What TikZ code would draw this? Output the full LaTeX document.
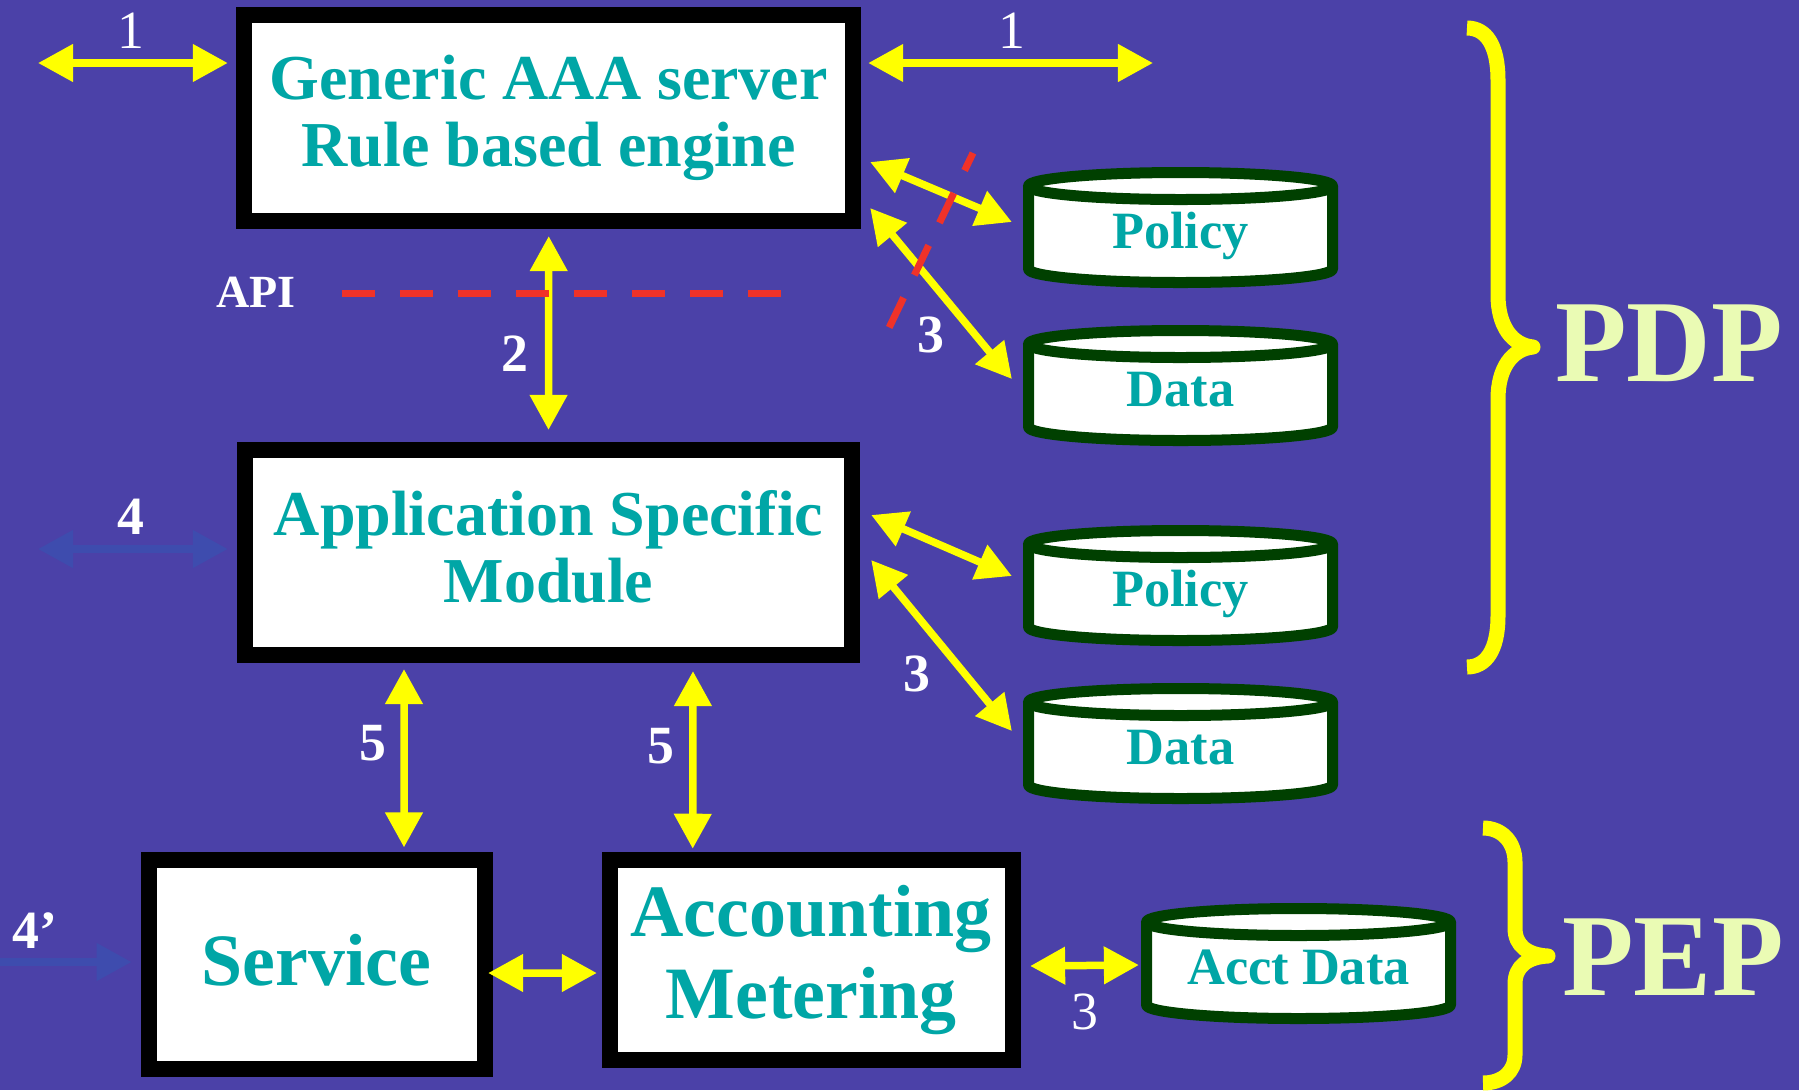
\documentclass[tikz,border=0pt]{standalone}
\usepackage{fontspec}
\setmainfont{Liberation Serif}
\usetikzlibrary{arrows.meta,calc}

\definecolor{bgblue}{RGB}{75,65,168}
\definecolor{aaateal}{RGB}{0,166,166}
\definecolor{aaayellow}{RGB}{255,255,0}
\definecolor{dbgreen}{RGB}{0,64,0}
\definecolor{apired}{RGB}{240,50,40}
\definecolor{faintblue}{RGB}{62,76,174}
\definecolor{pdpgreen}{RGB}{234,251,180}

% cylinder: name, centre x, top ellipse y, label
\newcommand{\dbcyl}[4]{%
  \fill[white] (#2-152,#3) -- (#2-152,#3+83) arc[start angle=180,end angle=0,x radius=152,y radius=13.5] -- (#2+152,#3) -- cycle;
  \draw[cylline] (#2-152,#3) -- (#2-152,#3+83) arc[start angle=180,end angle=0,x radius=152,y radius=13.5] -- (#2+152,#3);
  \filldraw[cylline,fill=white] (#2,#3) ellipse[x radius=152,y radius=13.5];
  \node[dbnode] (#1) at (#2,#3+41.5) {#4};
}

\begin{document}
\begin{tikzpicture}[x=0.01cm,y=-0.01cm,
    blockbox/.style={draw=black,line width=0.16cm,fill=white,inner sep=0pt,align=center,text=aaateal},
    midfont/.style={font=\fontsize{18.2}{19}\selectfont\bfseries},
    bigfont/.style={font=\fontsize{21}{23.3}\selectfont\bfseries},
    cylline/.style={draw=dbgreen,line width=0.11cm,line join=round},
    dbnode/.style={inner sep=0pt,outer sep=0pt,minimum width=3.15cm,minimum height=1.21cm,
      text height=0.41cm,text depth=0cm,text=aaateal,font=\fontsize{14.9}{16}\selectfont\bfseries},
    biarrow/.style={draw=aaayellow,line width=0.075cm,
      {Triangle[length=0.35cm,width=0.36cm]}-{Triangle[length=0.35cm,width=0.36cm]}},
    farrow/.style={biarrow,draw=faintblue},
    fonearrow/.style={draw=faintblue,line width=0.075cm,-{Triangle[length=0.35cm,width=0.36cm]}},
    numlbl/.style={text=white,inner sep=0pt,font=\fontsize{15.3}{16}\selectfont\bfseries},
    numthin/.style={text=white,inner sep=0pt,font=\fontsize{15.3}{16}\selectfont},
    apiline/.style={draw=apired,line width=0.07cm,dash pattern=on 0.33cm off 0.25cm},
    bracepath/.style={draw=aaayellow,line width=0.15cm,line join=round},
    biglbl/.style={text=pdpgreen,inner sep=0pt,font=\fontsize{33.3}{36}\selectfont\bfseries}]

\useasboundingbox (0,0) rectangle (1799,1090);
\fill[bgblue] (0,0) rectangle (1799,1090);

% blocks
\node[blockbox,midfont,minimum width=6.085cm,minimum height=2.06cm] (gen) at (548.75,118) {Generic AAA server\\Rule based engine};
\node[blockbox,midfont,minimum width=6.07cm,minimum height=2.05cm,text depth=0.12cm] (asm) at (548.5,552.5) {Application Specific\\Module};
\node[blockbox,bigfont,minimum width=3.36cm,minimum height=2.08cm,text depth=0.10cm] (srv) at (316.7,964.5) {Service};
\node[blockbox,bigfont,minimum width=4.03cm,minimum height=2.0cm] (acm) at (811.2,960.3) {Accounting\\Metering};

% stores
\dbcyl{pol1}{1180.5}{186}{Policy}
\dbcyl{dat1}{1180.5}{344}{Data}
\dbcyl{pol2}{1180.5}{544}{Policy}
\dbcyl{dat2}{1180.5}{702}{Data}
\dbcyl{acct}{1298.5}{922}{Acct Data}

% connectors
\coordinate (l1) at (38,63);
\coordinate (r1) at (1153,63);
\coordinate (l4) at (38,549);
\coordinate (l4p) at (0,962);
\draw[biarrow] (l1) -- ($(gen.west)+(-8.5,-55)$);
\draw[biarrow] ($(gen.east)+(7,-55)$) -- (r1);
\draw[biarrow,shorten <=0.07cm,shorten >=0.12cm] (gen.south) -- (asm.north);
\draw[biarrow] ($(gen.east)+(9,44)$) -- ($(pol1.west)+(-11,-5.5)$);
\draw[biarrow] ($(gen.east)+(9,90)$) -- ($(dat1.west)+(-11,-6.5)$);
\draw[biarrow] ($(asm.east)+(11,-37.5)$) -- ($(pol2.west)+(-11,-9.5)$);
\draw[biarrow] ($(asm.east)+(11,7.5)$) -- ($(dat2.west)+(-11,-12.5)$);
\draw[biarrow] ($(asm.south)+(-144.5,6)$) -- ($(srv.north)+(87.3,-5)$);
\draw[biarrow] ($(asm.south)+(144.5,8)$) -- ($(acm.north)+(-118.5,-3.5)$);
\draw[biarrow] ($(srv.east)+(-4.7,8.5)$) -- ($(acm.west)+(-4.7,12.7)$);
\draw[biarrow] ($(acm.east)+(9.3,5.7)$) -- ($(acct.west)+(-2,1.5)$);
\draw[farrow] (l4) -- ($(asm.west)+(-9,-3.5)$);
\draw[fonearrow] (l4p) -- ($(srv.west)+(-9,-2.5)$);

% API cut
\node[numlbl,font=\fontsize{13.1}{14}\selectfont\bfseries] (api) at (256,292) {API};
\draw[apiline] (341.6,293) -- (781,293);
\draw[apiline,dash phase=0.136cm] (973,153) -- (888,330);

% labels
\node[numthin] (n1a) at (130.5,30.5) {1};
\node[numthin] (n1b) at (1012,31) {1};
\node[numlbl] (n2) at (515,353.5) {2};
\node[numlbl] (n3a) at (931,335) {3};
\node[numlbl] (n3b) at (917,674) {3};
\node[numthin] (n3c) at (1085,1011.5) {3};
\node[numlbl] (n4) at (131,517) {4};
\node[numlbl] (n4p) at (35,931) {4’};
\node[numlbl] (n5a) at (372.6,743.5) {5};
\node[numlbl] (n5b) at (660.7,746) {5};

% braces
\draw[bracepath] (1467,28) .. controls (1486,28) and (1498,45) .. (1498,80) -- (1498,295)
  .. controls (1498,326) and (1512,345) .. (1533,347) .. controls (1512,349) and (1498,368) .. (1498,399)
  -- (1498,616) .. controls (1498,650) and (1486,667) .. (1467,667);
\node[biglbl] (pdp) at (1669,343) {PDP};
\draw[bracepath] (1483,828) .. controls (1502,828) and (1515,842) .. (1515,862) -- (1515,928)
  .. controls (1515,946) and (1528,955) .. (1548,956) .. controls (1528,957) and (1515,966) .. (1515,984)
  -- (1515,1055) .. controls (1515,1072) and (1502,1083) .. (1483,1083);
\node[biglbl] (pep) at (1673,957) {PEP};
\end{tikzpicture}
\end{document}
